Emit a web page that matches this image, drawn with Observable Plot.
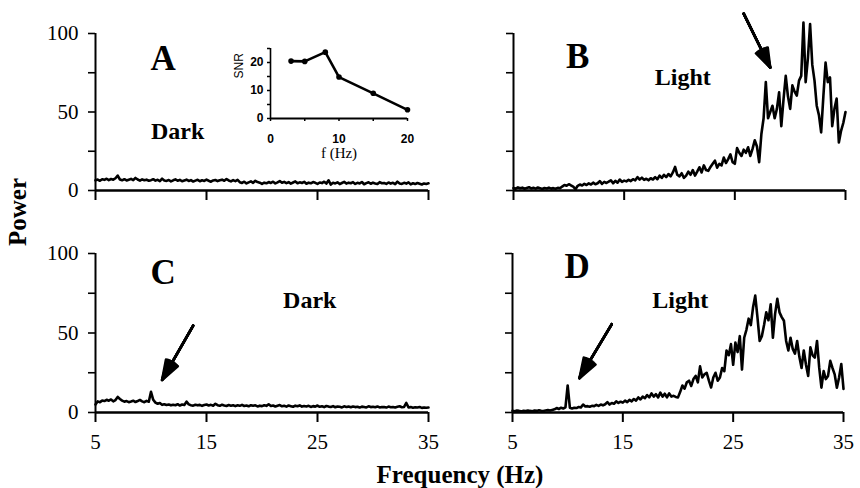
<!DOCTYPE html>
<html><head><meta charset="utf-8">
<script src="https://cdn.jsdelivr.net/npm/d3@7"></script>
<script src="https://cdn.jsdelivr.net/npm/@observablehq/plot@0.6"></script>
<style>
body{margin:0;background:#fff;}
#wrap{position:relative;width:860px;height:488px;overflow:hidden;font-family:"Liberation Serif",serif;background:#fff;}
.lab{position:absolute;font-weight:bold;color:#000;white-space:nowrap;font-family:"Liberation Serif",serif;line-height:1;}
</style></head><body><div id="wrap"></div>
<script>
// ---- data ----
const freqStep = 0.2;
const freq = d3.range(151).map(i => +(5 + i * freqStep).toFixed(1));
const xTicks = [5, 15, 25, 35];
const yTicks = [0, 25, 50, 75, 100];
const yTickLabels = [0, 50, 100];

const darkA = [6.5,7,6.2,7.2,6.8,7.5,6.6,7.3,6.9,7.8,9.5,7,6.5,7.2,6.4,6.9,7.4,6.6,8,7,6.3,7.1,6.5,6.9,6.2,
6.6,7.2,6.3,6.8,6,7.5,6.4,6.1,6.7,5.8,6.5,7.1,6.2,6.8,5.9,6.4,6.9,6.1,6.6,5.7,6.3,6.8,5.9,6.5,6.1,6.9,6.2,5.6,6.4,6.7,6,6.5,6.9,6.2,7.3,6.4,5.8,6.6,6,6.8,5.3,4.8,5.6,4.5,5.2,5.8,4.9,6.2,5.4,5,
4.2,5,4.6,5.4,4.8,5.6,4.5,5.2,6,4.9,5.5,4.7,5.3,4.4,5.1,5.8,4.6,5.2,4.8,5.5,4.3,5,4.6,5.4,4.9,4.2,5.1,4.7,5.6,4.4,6.5,3.8,4.9,4.5,5.2,4.1,4.8,5.5,4.4,5,4.6,5.3,4.2,4.9,4.5,5.4,4,4.7,5.2,4.3,5,4.5,4.1,5.3,4.6,4.8,4.2,5.1,4.4,4.9,4,5.6,4.5,4.2,4.9,4.4,5.2,3.9,4.6,4.1,4.8,4.3,3.8,4.5,4.2,4.6];

const lightB = [1.5,1.2,2,1.4,1.8,1.1,1.6,2.1,1.3,1.7,1.2,1.9,1.5,1.0,1.6,1.3,1.8,1.2,1.5,1.1,1.7,1.4,
2.5,3.5,3,4,3.2,2.5,0.8,3,3.8,3.2,4.2,3.5,4.5,3.8,5,4,4.6,6,4.2,5.5,4.8,5.6,6.5,4.6,6.2,5,7,5.5,6.3,
5.8,6.8,6,7.2,6.5,8.5,7,8.2,6.8,7.5,6.5,7.8,7,8.5,7.2,9.5,8,10,8.5,10.5,9,11.5,15,10,
9,11,8,9.5,12,10,13,9.5,12,14.8,11.5,16,13,12.5,15,17,19,14.5,17,16,21,17.5,20,23,18,17,27,24,22,26,24,27.5,22,26.5,32,28,18,36,46,69,46,50,54,46,52,62.5,41,58,73,60,52,67,63,60.5,70,73,107,69,84,106,80,70,54,48,37,60,81.5,69,72,41,52,58.6,30.6,38,43,50];

const darkC = [5,7,6.5,7.5,7.2,8,7.4,8.2,7,7.8,9.8,8.5,7.5,6.8,7.2,6.5,6.9,7.4,6.6,7.2,7.9,7,6.5,7.3,6.8,
13,8,6.2,5.5,6,4.8,5.2,4.7,5,4.5,4.9,4.6,5.2,4.4,5,4.7,6.8,5.1,4.6,4.3,4.9,4.5,4.8,4.2,4.7,5,4.4,4.8,4.3,5.5,4.6,4.2,4.9,4.4,4.1,4.7,4.3,4.6,4,4.5,4.2,4.8,4.1,4.4,3.9,4.6,4.2,4.5,3.8,4.3,
4,4.6,4.2,5.2,4.1,4.4,3.8,4.3,4.7,3.9,4.2,3.7,4.4,4,3.6,4.3,3.9,4.5,3.7,4.1,3.8,4.2,3.5,4,3.7,4.4,3.6,3.9,3.4,4.1,3.7,3.5,4,3.3,3.8,3.6,3.2,3.9,3.5,3.7,3.3,3.8,3.4,3.6,3.1,3.7,3.5,3.2,3.9,3.4,3.6,3.3,3.8,3.2,3.5,3.4,3.1,3.7,3.3,3.5,3.2,3.6,3.9,3.3,3.5,6,3.2,3.4,3,3.3,3.1,3.4,2.9,3.2,3,3.1];

const lightD = [1,0.8,1.2,1,0.7,1.1,0.9,1.3,1,0.8,1.2,1,1.4,1.1,0.9,1.3,1.5,1.2,1.6,
2,2.8,2.2,3,2.5,3.2,
17,3,2.5,3,2.8,3.5,3.2,5,3.8,4,3.6,4.2,4,4.8,4.2,5,4.5,5.2,6.5,5,6,5.5,7,6,6.8,6.2,7.5,6.5,8,7,8.5,7.5,9.5,8.2,10,9,11,9.5,12,10,11.5,9.5,12.5,10,11.8,9.5,12,10,10.5,9.8,9.5,
13,17,15,19,20,16.7,21,23,19,29,22,24,25,20,15.7,22,25,20,22,28,26,39,36,43,30,44,38,48,27,47,52,59,55,66,73.5,60,45,48,55,63,58,68,47,62,71.5,63,60,57.7,45,39,47,40,37,45,35,28,39,30,23,41,36,34.5,45,28,15.6,26,21,23,32.5,28,24,15.6,22,30.5,14.8];

const panelLetters = ["A", "B", "C", "D"];
const letterX = [11.1, 10.8, 11.1, 10.85];
const letterY = [84, 85, 87.7, 91.5];
const conditions = ["Dark", "Light", "Dark", "Light"];
const condX = [12.4, 20.3, 24.3, 20.2];
const condY = [37.6, 72.3, 70.7, 70.7];
// arrows (data units): tail -> head
const arrowB = [{x1: 25.8, y1: 112.7, x2: 28.2, y2: 78.3}];
const arrowC = [{x1: 13.8, y1: 54.6, x2: 11.0, y2: 20.5}];
const arrowD = [{x1: 14.0, y1: 55.6, x2: 11.07, y2: 21.6}];

// inset
const snrFreq = [3, 5, 8, 10, 15, 20];
const snrValue = [20.5, 20.4, 23.7, 14.8, 9, 3.1];
const snrXTicks = [0, 5, 10, 15, 20];
const snrYTicks = [0, 5, 10, 15, 20, 25];

// ---- drawing ----
const wrap = document.getElementById("wrap");
function place(node, left, top) {
  node.style.position = "absolute";
  node.style.left = left + "px";
  node.style.top = top + "px";
  wrap.appendChild(node);
}

// arrowhead drawn as a fan of open heads so it reads as filled
const headAngles = [6, 14, 22, 30, 38];

function panel(i, values, o) {
  const data = freq.map((f, k) => ({f, p: values[k]}));
  const marks = [
    Plot.axisX({ticks: xTicks, tickSize: 10, tickPadding: 12, strokeWidth: 2, fontSize: 21,
      tickFormat: o.showX ? (d => String(d)) : (() => ""), label: null}),
    Plot.axisY({ticks: yTicks, tickSize: 7, tickPadding: 10, strokeWidth: 1.6, fontSize: 21,
      tickFormat: o.showY ? (d => yTickLabels.includes(d) ? String(d) : "") : (() => ""), label: null}),
    Plot.ruleY([0], {strokeWidth: 2.4}),
    Plot.ruleX([5], {strokeWidth: 2}),
    Plot.line(data, {x: "f", y: "p", stroke: "black", strokeWidth: 2.6, strokeLinejoin: "round"}),
    Plot.text([panelLetters[i]], {x: () => letterX[i], y: () => letterY[i], text: d => d,
      fontSize: 35, fontWeight: "bold", lineAnchor: "middle", textAnchor: "middle"}),
    Plot.text([conditions[i]], {x: () => condX[i], y: () => condY[i], text: d => d,
      fontSize: 24, fontWeight: "bold", lineAnchor: "middle", textAnchor: "middle"})
  ];
  if (o.arrow) {
    for (const a of headAngles) {
      marks.push(Plot.arrow(o.arrow, {x1: "x1", y1: "y1", x2: "x2", y2: "y2",
        stroke: "black", strokeWidth: 2.6, headLength: 13, headAngle: a}));
    }
  }
  const svg = Plot.plot({
    width: o.width, height: o.height,
    marginLeft: o.ml, marginRight: o.mr, marginTop: o.mt, marginBottom: o.mb,
    x: {domain: [5, 35], label: null},
    y: {domain: [0, 100], label: null},
    style: {background: "transparent", fontFamily: "Liberation Serif", fontSize: "21px", color: "black", overflow: "visible"},
    marks
  });
  place(svg, o.left, o.top);
}

panel(0, darkA,  {left: 0,   top: 0,   width: 430, height: 215, ml: 95, mr: 2,  mt: 33, mb: 25, showX: false, showY: true});
panel(1, lightB, {left: 430, top: 0,   width: 430, height: 215, ml: 83, mr: 15, mt: 33, mb: 25, showX: false, showY: false, arrow: arrowB});
panel(2, darkC,  {left: 0,   top: 220, width: 430, height: 268, ml: 95, mr: 2,  mt: 33, mb: 76, showX: true, showY: true, arrow: arrowC});
panel(3, lightD, {left: 430, top: 220, width: 430, height: 268, ml: 82, mr: 17, mt: 33, mb: 76, showX: true, showY: false, arrow: arrowD});

// inset
const snrData = snrFreq.map((f, k) => ({f, s: snrValue[k]}));
const inset = Plot.plot({
  width: 230, height: 150,
  marginLeft: 70, marginRight: 23, marginTop: 28, marginBottom: 52,
  x: {domain: [0, 20], label: null},
  y: {domain: [0, 25], label: null},
  style: {background: "transparent", fontFamily: "Liberation Sans", fontSize: "12px", color: "black", overflow: "visible"},
  marks: [
    Plot.axisX({ticks: snrXTicks, tickSize: 3, tickPadding: 13, strokeWidth: 1.5, fontSize: 12, fontWeight: "bold",
      tickFormat: d => d % 10 === 0 ? String(d) : "", label: null}),
    Plot.axisY({ticks: snrYTicks, tickSize: 3, tickPadding: 4, strokeWidth: 1.5, fontSize: 12, fontWeight: "bold",
      tickFormat: d => d % 10 === 0 ? String(d) : "", label: null}),
    Plot.ruleY([0], {strokeWidth: 2}),
    Plot.ruleX([0], {strokeWidth: 1.6}),
    Plot.line(snrData, {x: "f", y: "s", stroke: "black", strokeWidth: 2.6, strokeLinejoin: "round"}),
    Plot.dot(snrData, {x: "f", y: "s", r: 2.8, fill: "black", stroke: "none"}),
    Plot.text(["SNR"], {frameAnchor: "left", text: d => d, rotate: -90, dx: -31, dy: -5, fontSize: 12, fontFamily: "Liberation Sans"}),
    Plot.text(["f (Hz)"], {frameAnchor: "bottom", text: d => d, dy: 39, fontSize: 15, fontFamily: "Liberation Serif"})
  ]
});
place(inset, 200, 20);

// outer axis titles
const pw = document.createElement("div");
pw.className = "lab"; pw.textContent = "Power";
pw.style.fontSize = "25px";
pw.style.left = "17px"; pw.style.top = "212px";
pw.style.transform = "translate(-50%,-50%) rotate(-90deg)";
wrap.appendChild(pw);

const fq = document.createElement("div");
fq.className = "lab"; fq.textContent = "Frequency (Hz)";
fq.style.fontSize = "25px";
fq.style.left = "460px"; fq.style.top = "462px";
fq.style.transform = "translateX(-50%)";
wrap.appendChild(fq);
</script></body></html>
